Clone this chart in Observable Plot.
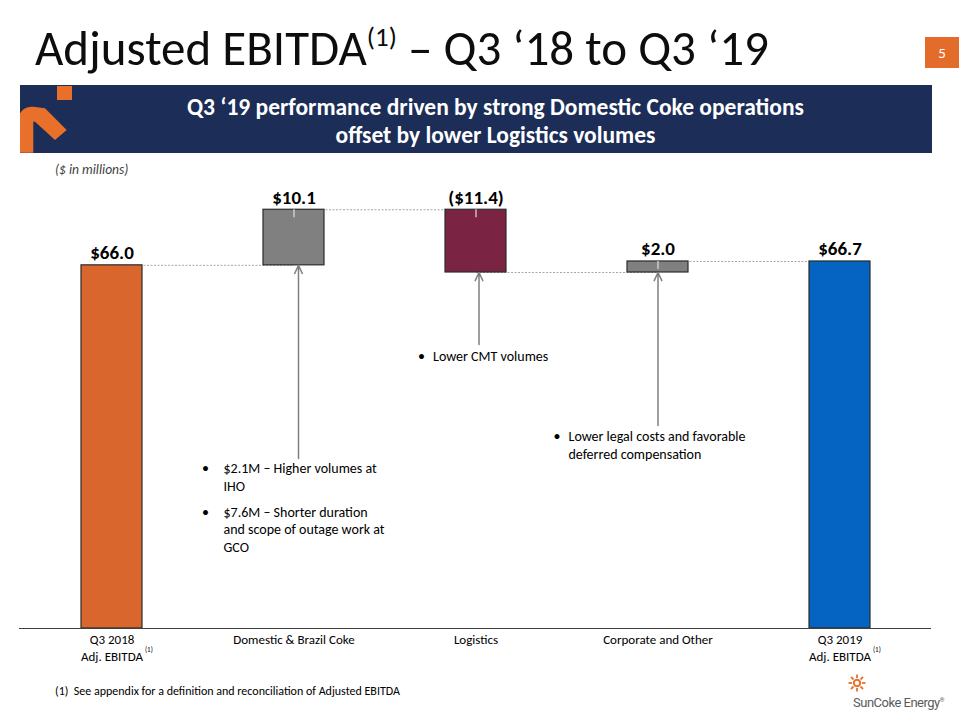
<!DOCTYPE html>
<html>
<head>
<meta charset="utf-8">
<script src="https://cdn.jsdelivr.net/npm/d3@7"></script>
<script src="https://cdn.jsdelivr.net/npm/@observablehq/plot@0.6"></script>
<style>
  html, body { margin: 0; padding: 0; background: #fff; }
  #page { position: relative; width: 960px; height: 720px; overflow: hidden; font-family: Carlito, Lato, sans-serif; color: #000; }
  .abs { position: absolute; }
  #title { left: 35px; top: 24px; font-size: 49px; line-height: 1; white-space: nowrap; color: #0d0d0d; }
  #title sup { font-size: 0.55em; vertical-align: 0; position: relative; top: -0.72em; }
  #pnum { left: 925px; top: 37px; width: 34px; height: 31px; background: #E46C2A; color: #fff; font-size: 15px; display: flex; align-items: center; justify-content: center; }
  #banner { left: 20px; top: 85px; width: 912px; height: 68px; background: #1C2D57; }
  #bannerText { left: 59px; top: 93px; width: 873px; text-align: center; color: #fff; font-weight: bold; font-size: 23.5px; line-height: 28px; white-space: nowrap; }
  #units { left: 55px; top: 161px; font-size: 13.5px; font-style: italic; color: #404040; }
  #chart { left: 0; top: 180px; }
  #foot { left: 55px; top: 684px; font-size: 12px; color: #000; white-space: pre; }
  #brand { left: 853px; top: 695px; font-family: "Liberation Sans Narrow", Roboto, sans-serif; font-size: 13px; color: #5b5b5b; letter-spacing: -0.5px; white-space: nowrap; }
  #brand sup { font-size: 6px; }
</style>
</head>
<body>
<div id="page">
  <div id="title" class="abs">Adjusted EBITDA<sup>(1)</sup> – Q3 ‘18 to Q3 ‘19</div>
  <div id="pnum" class="abs">5</div>
  <div id="banner" class="abs"></div>
  <svg class="abs" style="left:0;top:80px" width="80" height="80">
    <rect x="57" y="6" width="15" height="14" fill="#E8702A"/>
    <path d="M20,72.7 L20,33.3 Q24,26 33.3,26.7 L45,28.3 L66.7,50 L55,60 L35,41.7 L33.3,41.7 L33.3,72.7 Z" fill="#E8702A"/>
  </svg>
  <div id="bannerText" class="abs">Q3 ‘19 performance driven by strong Domestic Coke operations<br>offset by lower Logistics volumes</div>
  <div id="units" class="abs">($ in millions)</div>
  <div id="chart" class="abs"></div>
  <div id="foot" class="abs">(1)  See appendix for a definition and reconciliation of Adjusted EBITDA</div>
  <svg class="abs" style="left:848px;top:674px" width="20" height="20">
    <g transform="translate(9,9)" stroke="#E8702A" stroke-width="2" fill="none">
      <circle r="3.2"/>
      <g stroke-width="1.8">
        <line x1="0" y1="-5" x2="0" y2="-8.5"/><line x1="0" y1="5" x2="0" y2="8.5"/>
        <line x1="-5" y1="0" x2="-8.5" y2="0"/><line x1="5" y1="0" x2="8.5" y2="0"/>
        <line x1="3.5" y1="-3.5" x2="6" y2="-6"/><line x1="-3.5" y1="3.5" x2="-6" y2="6"/>
        <line x1="-3.5" y1="-3.5" x2="-6" y2="-6"/><line x1="3.5" y1="3.5" x2="6" y2="6"/>
      </g>
    </g>
  </svg>
  <div id="brand" class="abs">SunCoke Energy<sup>®</sup></div>
</div>
<script>
// ---- data ----
const categories = ["Q3 2018\nAdj. EBITDA", "Domestic & Brazil Coke", "Logistics", "Corporate and Other", "Q3 2019\nAdj. EBITDA"];
const values = [66.0, 10.1, -11.4, 2.0, 66.7];
const kinds = ["total", "delta", "delta", "delta", "total"];
const valueLabels = ["$66.0", "$10.1", "($11.4)", "$2.0", "$66.7"];
const barColors = ["#D9662D", "#808080", "#7B2343", "#808080", "#0563C1"];

const noteCategories = ["Domestic & Brazil Coke", "Domestic & Brazil Coke", "Logistics", "Corporate and Other"];
const noteTexts = [
  "$2.1M – Higher volumes at\nIHO",
  "$7.6M – Shorter duration\nand scope of outage work at\nGCO",
  "Lower CMT volumes",
  "Lower legal costs and favorable\ndeferred compensation"
];
const arrowCategories = ["Domestic & Brazil Coke", "Logistics", "Corporate and Other"];

// ---- annotation layout (in $M for y, px for dx) ----
const noteTop = [30.5, 22.6, 50.8, 36.3];
const noteDx = [-70.5, -70.5, -43, -89.5];
const bulletDx = [-92, -92, -58, -104.5];
const arrowStart = [30.9, 51.6, 36.9];
const arrowDx = [4.5, 3, 0];

// ---- derived waterfall table ----
let run = 0;
const rows = categories.map((c, i) => {
  let lo, hi;
  if (kinds[i] === "total") { lo = 0; hi = values[i]; run = values[i]; }
  else { const s = run; run += values[i]; lo = Math.min(s, run); hi = Math.max(s, run); }
  return {cat: c, lo, hi, level: run, label: valueLabels[i], color: barColors[i], kind: kinds[i]};
});
const connectors = rows.slice(0, -1).map((r, i) => ({from: r.cat, to: rows[i + 1].cat, level: r.level}));
const deltaRows = rows.filter(r => r.kind === "delta");
const totalRows = rows.filter(r => r.kind === "total");
const bottomOf = c => rows.find(r => r.cat === c).lo;

const FONT = "Carlito, Lato, sans-serif";

const noteMarks = noteTexts.flatMap((t, i) => [
  Plot.text([{cat: noteCategories[i], y: noteTop[i], text: t}], {
    x: "cat", y: "y", text: "text", dx: noteDx[i], textAnchor: "start", lineAnchor: "top",
    fontSize: 14, lineHeight: 1.25, fill: "#000"
  }),
  Plot.text([{cat: noteCategories[i], y: noteTop[i]}], {
    x: "cat", y: "y", text: () => "•", dx: bulletDx[i], textAnchor: "start", lineAnchor: "top",
    fontSize: 14, lineHeight: 1.25, fill: "#000"
  })
]);

const arrowMarks = arrowCategories.map((c, i) =>
  Plot.arrow([{cat: c, from: arrowStart[i], to: bottomOf(c)}], {
    x1: "cat", x2: "cat", y1: "from", y2: "to", dx: arrowDx[i],
    stroke: "#7f7f7f", strokeWidth: 1.5, headLength: 9, headAngle: 50
  })
);

const chart = Plot.plot({
  width: 960,
  height: 490,
  marginTop: 10,
  marginBottom: 42,
  marginLeft: 19,
  marginRight: 29,
  style: {background: "transparent", fontFamily: FONT, color: "#000", overflow: "visible"},
  x: {domain: categories, paddingInner: 0.665, paddingOuter: 0.3325, label: null},
  y: {domain: [0, 79.6], axis: null},
  color: {type: "identity"},
  marks: [
    Plot.link(connectors, {x1: "from", x2: "to", y1: "level", y2: "level", stroke: "#a6a6a6", strokeWidth: 1, strokeDasharray: "2,1.5"}),
    Plot.barY(rows, {x: "cat", y1: "lo", y2: "hi", fill: "color", stroke: "#2b2b2b", strokeWidth: 1.2}),
    Plot.ruleX(deltaRows, {x: "cat", y1: "hi", y2: "hi", insetBottom: -8, stroke: "#e0e0e0", strokeWidth: 1.2}),
    ...arrowMarks,
    Plot.text(rows, {x: "cat", y: "hi", text: "label", dy: -6, lineAnchor: "bottom", fontWeight: "bold", fontSize: 19, fill: "#000"}),
    Plot.ruleY([0], {stroke: "#404040", strokeWidth: 1.2}),
    Plot.axisX({tickSize: 0, tickPadding: 4, fontSize: 13, lineHeight: 1.28, fill: "#000"}),
    Plot.text(totalRows, {x: "cat", y: () => 0, text: () => "(1)", dx: 33, dy: 21, fontSize: 7, textAnchor: "start", fill: "#000"}),
    ...noteMarks
  ]
});
document.getElementById("chart").appendChild(chart);
</script>
</body>
</html>
